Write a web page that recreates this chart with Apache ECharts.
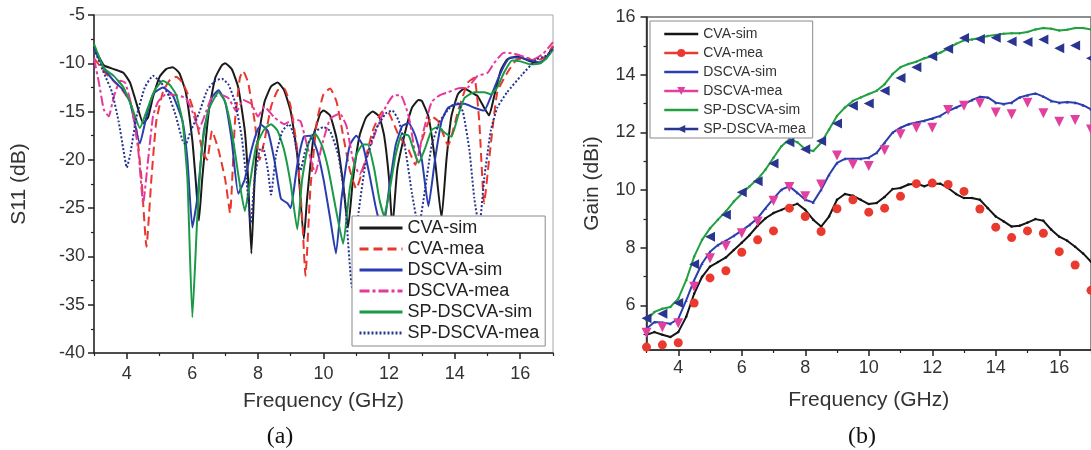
<!DOCTYPE html>
<html>
<head>
<meta charset="utf-8">
<title>S11 and gain of CVA / DSCVA / SP-DSCVA</title>
<script src="https://cdn.jsdelivr.net/npm/echarts@6/dist/echarts.min.js"></script>
<style>
  html, body { margin: 0; padding: 0; background: #fff; }
  #wrap { position: relative; width: 1091px; height: 450px; }
  #chartA { position: absolute; left: 0; top: 0; width: 560px; height: 450px; }
  #chartB { position: absolute; left: 560px; top: 0; width: 531px; height: 450px; }
</style>
</head>
<body>
<div id="wrap">
  <div id="chartA"></div>
  <div id="chartB"></div>
</div>
<script>
// ---------- panel (a): S11, [GHz, dB] ----------
const cvaSimA = [[3,-8.3],[3.3,-10.2],[3.6,-10.6],[3.9,-11],[4.1,-12],[4.3,-14.2],[4.5,-16.2],[4.65,-15.6],[4.8,-13.5],[5.0,-11.4],[5.2,-10.6],[5.4,-10.4],[5.6,-11],[5.8,-13],[6.0,-18],[6.1,-22],[6.2,-26.3],[6.3,-22],[6.5,-15],[6.7,-11.5],[6.9,-10.2],[7.0,-10],[7.2,-10.6],[7.4,-12.5],[7.6,-17],[7.7,-22],[7.8,-29.7],[7.9,-22],[8.0,-18],[8.2,-14],[8.4,-12.4],[8.6,-12],[8.8,-12.8],[9.0,-15],[9.2,-19.5],[9.4,-28.2],[9.5,-24],[9.7,-17.5],[9.9,-15.2],[10.0,-14.9],[10.2,-15.4],[10.4,-17.8],[10.6,-22.5],[10.75,-27],[10.9,-22],[11.1,-17.5],[11.3,-15.6],[11.5,-15],[11.7,-15.5],[11.85,-17.5],[12.0,-22],[12.1,-27],[12.25,-21],[12.5,-17],[12.7,-14.6],[12.9,-13.8],[13.0,-13.9],[13.2,-15.5],[13.4,-20],[13.6,-26],[13.75,-20],[13.9,-15.5],[14.1,-13.2],[14.3,-12.6],[14.5,-13],[14.7,-13.4],[14.9,-14.6],[15.05,-15.4],[15.2,-13.5],[15.4,-10.8],[15.6,-9.6],[15.9,-9.3],[16.1,-9.5],[16.3,-9.8],[16.6,-10],[16.8,-9.4],[17,-8.3]];
const cvaMeaA = [[3,-9.5],[3.4,-11.2],[3.8,-12.5],[4.1,-14],[4.3,-17],[4.45,-22],[4.6,-29],[4.75,-22],[4.9,-16],[5.1,-13],[5.3,-11.8],[5.5,-11.4],[5.7,-12],[5.9,-13.5],[6.1,-15.5],[6.3,-19],[6.45,-20],[6.6,-17],[6.8,-19],[7.0,-22],[7.15,-25.5],[7.3,-16],[7.45,-11.5],[7.55,-10.8],[7.7,-12],[7.9,-16],[8.05,-20],[8.2,-18],[8.4,-14.5],[8.6,-12.8],[8.8,-12.6],[9.0,-14.5],[9.2,-19],[9.35,-26],[9.45,-32],[9.6,-23],[9.8,-16],[10.0,-13.2],[10.2,-12.6],[10.4,-14],[10.6,-17.5],[10.8,-21],[11.0,-23],[11.2,-21],[11.5,-17],[11.8,-15],[12.0,-15.2],[12.3,-17.5],[12.6,-19],[12.8,-20.5],[13.0,-18],[13.3,-15.5],[13.5,-16],[13.8,-18.5],[14.1,-15],[14.4,-12],[14.6,-11.5],[14.75,-16],[14.9,-24.5],[15.05,-20],[15.3,-13],[15.6,-11],[15.9,-9.6],[16.2,-9.5],[16.5,-9.8],[16.8,-9.2],[17,-8.2]];
const dscvaSimA = [[3,-8.5],[3.3,-10.5],[3.6,-11.8],[3.9,-12.8],[4.1,-14],[4.4,-18.3],[4.6,-15.5],[4.8,-13.2],[5.1,-12.5],[5.4,-13.3],[5.7,-16],[5.85,-20],[6.0,-27],[6.15,-24],[6.35,-17],[6.6,-13.5],[6.8,-12.8],[7.0,-14],[7.2,-18],[7.4,-23.5],[7.6,-22],[7.8,-19],[8.0,-16.8],[8.1,-16.4],[8.3,-17],[8.5,-20],[8.7,-24],[8.9,-24.5],[9.0,-25],[9.2,-20.5],[9.4,-17.6],[9.6,-17.5],[9.8,-19],[10.0,-22],[10.2,-26],[10.38,-29.7],[10.55,-24],[10.8,-18.5],[11.0,-17.5],[11.2,-18.5],[11.4,-21.5],[11.6,-25],[11.8,-27.5],[12.0,-23],[12.2,-18.5],[12.4,-16.5],[12.6,-16.2],[12.8,-17.5],[13.0,-20],[13.2,-24.8],[13.4,-20],[13.6,-16],[13.8,-14.6],[14.0,-14.3],[14.3,-14.2],[14.6,-14.6],[14.9,-14.9],[15.1,-13.5],[15.3,-11.8],[15.5,-10.3],[15.7,-9.4],[16.0,-9.4],[16.3,-9.7],[16.6,-9.9],[16.8,-9.4],[17,-8.5]];
const dscvaMeaA = [[3,-9.5],[3.15,-12],[3.3,-14.8],[3.45,-15.5],[3.6,-13.5],[3.8,-11.8],[3.95,-12],[4.15,-14.5],[4.35,-19],[4.5,-24.5],[4.65,-20],[4.8,-15.5],[4.95,-14],[5.2,-13.2],[5.5,-13.3],[5.8,-13.6],[6.0,-15],[6.2,-16.8],[6.4,-15.2],[6.6,-13.5],[6.9,-13.3],[7.1,-13.6],[7.35,-15],[7.55,-13.8],[7.8,-14.2],[8.0,-15.5],[8.2,-14.5],[8.5,-15.6],[8.8,-16.3],[9.1,-15.8],[9.3,-16],[9.5,-18.5],[9.75,-21.4],[9.95,-18.5],[10.2,-15.8],[10.5,-15.2],[10.7,-16.5],[10.9,-20],[11.1,-21.5],[11.3,-20],[11.6,-17],[11.9,-14.5],[12.15,-13.3],[12.35,-13.3],[12.6,-15.5],[12.85,-20],[13.05,-17],[13.3,-14],[13.55,-13.3],[13.8,-13],[14.1,-12.6],[14.4,-12.5],[14.7,-11.3],[15.0,-11],[15.2,-10],[15.5,-8.9],[15.8,-9],[16.1,-9.3],[16.4,-9.6],[16.7,-9],[17,-7.8]];
const spSimA = [[3,-8],[3.3,-10.5],[3.6,-11.3],[3.9,-12.5],[4.15,-14.5],[4.4,-16.7],[4.6,-15],[4.85,-12.8],[5.1,-11.8],[5.3,-12.2],[5.5,-13.2],[5.7,-16],[5.85,-22],[6.0,-36.3],[6.15,-26],[6.3,-18.5],[6.5,-14.8],[6.8,-13],[7.0,-14],[7.2,-17],[7.4,-21.5],[7.6,-25.3],[7.75,-22.5],[7.95,-18.5],[8.2,-16.8],[8.4,-16.3],[8.6,-17],[8.8,-19],[9.0,-22.5],[9.2,-27.2],[9.35,-22],[9.55,-18.2],[9.75,-17.3],[9.95,-18.5],[10.15,-21],[10.4,-25.5],[10.6,-28.7],[10.8,-23],[11.0,-19.5],[11.2,-18.4],[11.35,-18.4],[11.55,-21],[11.7,-24],[11.85,-25.8],[12.0,-23.5],[12.2,-19.5],[12.4,-17.3],[12.6,-17.5],[12.75,-19],[12.9,-20.3],[13.1,-18.8],[13.3,-16.9],[13.5,-16.6],[13.7,-17.2],[13.9,-17.6],[14.1,-15.5],[14.3,-13.6],[14.6,-13],[14.9,-13],[15.1,-13.2],[15.3,-12.5],[15.5,-11],[15.75,-9.7],[16.0,-9.8],[16.3,-10.1],[16.6,-10],[16.8,-9.5],[17,-8.6]];
const spMeaA = [[3,-8.5],[3.3,-11],[3.55,-13],[3.75,-16],[3.9,-19],[4.0,-20.8],[4.1,-19.5],[4.3,-15.5],[4.55,-12.5],[4.8,-11.3],[5.05,-12],[5.3,-13.5],[5.5,-15.5],[5.7,-18],[5.8,-18.4],[5.95,-17],[6.2,-15.2],[6.45,-12.8],[6.7,-11.8],[6.9,-11.6],[7.1,-12.2],[7.3,-14],[7.5,-17.5],[7.65,-22],[7.78,-26.6],[7.9,-22],[8.05,-19],[8.15,-18.7],[8.3,-21],[8.4,-23.6],[8.55,-19.5],[8.75,-17],[8.95,-16.3],[9.1,-17.5],[9.3,-21.1],[9.45,-19],[9.7,-17.2],[10.0,-16.6],[10.2,-17],[10.45,-19.5],[10.65,-24],[10.87,-33.2],[11.05,-26],[11.3,-20],[11.6,-16.8],[11.9,-15.2],[12.1,-14.9],[12.3,-16],[12.5,-19],[12.7,-23.5],[12.9,-27],[13.1,-23],[13.3,-18.5],[13.55,-16],[13.8,-14.8],[14.05,-14],[14.25,-15],[14.45,-19],[14.6,-24],[14.75,-27],[14.9,-22],[15.1,-17],[15.3,-14.6],[15.6,-13],[16.05,-11.2],[16.5,-9.6],[16.8,-9.2],[17,-8.5]];

// ---------- panel (b): gain, dBi ----------
const fSim = [3,3.25,3.5,3.75,4,4.25,4.5,4.75,5,5.25,5.5,5.75,6,6.25,6.5,6.75,7,7.25,7.5,7.75,8,8.25,8.5,8.75,9,9.25,9.5,9.75,10,10.25,10.5,10.75,11,11.25,11.5,11.75,12,12.25,12.5,12.75,13,13.25,13.5,13.75,14,14.25,14.5,14.75,15,15.25,15.5,15.75,16,16.25,16.5,16.75,17];
const cvaSimB = [4.98,5.07,4.98,4.90,5.07,5.6,6.4,6.99,7.34,7.5,7.66,7.92,8.17,8.44,8.76,9.02,9.2,9.31,9.43,9.52,9.31,8.97,8.73,9.08,9.66,9.86,9.8,9.66,9.51,9.55,9.76,10.03,10.07,10.19,10.22,10.13,10.22,10.22,10.07,9.86,9.72,9.72,9.66,9.37,9.08,8.91,8.73,8.76,8.87,8.99,8.93,8.62,8.38,8.24,8.03,7.8,7.51];
const dscvaSimB = [5.19,5.42,5.4,5.36,5.53,6.17,6.87,7.45,7.86,8.09,8.24,8.41,8.59,8.79,9.02,9.37,9.7,10.01,10.13,9.9,9.66,9.57,10.01,10.53,10.94,11.08,11.08,11.08,11.12,11.29,11.64,11.99,12.16,12.28,12.34,12.4,12.48,12.57,12.74,12.86,12.98,13.12,13.23,13.21,13.03,12.98,13.03,13.21,13.29,13.35,13.24,13.09,13.03,13.05,13.03,12.94,12.8];
const spSimB = [5.48,5.77,5.88,5.94,6.23,6.87,7.69,8.27,8.67,8.97,9.26,9.6,9.87,10.13,10.38,10.71,11.12,11.52,11.76,11.66,11.41,11.35,11.64,12.1,12.57,12.86,13.09,13.21,13.33,13.44,13.67,14.02,14.26,14.37,14.45,14.57,14.64,14.76,14.9,15.07,15.19,15.22,15.27,15.34,15.38,15.42,15.44,15.44,15.48,15.57,15.62,15.59,15.53,15.56,15.62,15.62,15.57];
const fMea = [3,3.5,4,4.5,5,5.5,6,6.5,7,7.5,8,8.5,9,9.5,10,10.5,11,11.5,12,12.5,13,13.5,14,14.5,15,15.5,16,16.5,17];
const cvaMeaB = [4.55,4.63,4.70,6.08,6.95,7.20,7.84,8.27,8.58,9.37,9.08,8.56,9.35,9.66,9.23,9.37,9.78,10.22,10.24,10.19,9.95,9.34,8.71,8.35,8.58,8.50,7.86,7.40,6.52];
const dscvaMeaB = [5.05,5.24,5.38,6.64,7.63,8.06,8.5,8.91,9.63,10.1,9.78,10.19,11.2,10.88,10.83,11.38,11.93,12.16,12.16,12.77,12.92,13.01,12.69,12.63,13.03,12.66,12.37,12.43,12.1];
const spMeaB = [5.55,5.71,6.08,7.42,8.38,9.14,9.92,10.3,10.92,11.66,11.41,11.7,12.31,12.92,13.0,13.44,13.88,14.26,14.64,14.9,15.27,15.24,15.28,15.15,15.13,15.22,14.92,15.01,14.57];

// ticks
const xMajor = [4, 6, 8, 10, 12, 14, 16];
const xMinor = [3, 5, 7, 9, 11, 13, 15, 17];
const gainMajor = [6, 8, 10, 12, 14, 16];
const gainMinor = [5, 7, 9, 11, 13, 15];

const FONT = '"Liberation Sans", Arial, sans-serif';
const TXT = '#333';
const AX = '#222';

function zip(xs, ys) {
    return xs.map((x, i) => [x, ys[i]]);
}

function mainX(name, gap, labelMargin) {
    return {
        type: 'value', min: 3, max: 17, position: 'bottom',
        axisLine: { show: true, onZero: false, lineStyle: { color: AX, width: 1.5 } },
        axisTick: { show: true, length: 6, customValues: xMajor, lineStyle: { color: AX, width: 1.5 } },
        axisLabel: { customValues: xMajor, margin: labelMargin, fontSize: 18, color: TXT, fontFamily: FONT },
        splitLine: { show: false },
        name: name, nameLocation: 'middle', nameGap: gap,
        nameTextStyle: { fontSize: 21, color: TXT, fontFamily: FONT }
    };
}

function minorX() {
    return {
        type: 'value', min: 3, max: 17, position: 'bottom',
        axisLine: { show: false },
        axisTick: { show: true, length: 3, customValues: xMinor, lineStyle: { color: AX, width: 1.2 } },
        axisLabel: { show: false },
        splitLine: { show: false }
    };
}

function lineA(name, data, color, type) {
    return {
        name: name, type: 'line', data: data, symbol: 'none', smooth: 0.15,
        lineStyle: { color: color, width: 2, type: type, cap: 'butt' },
        itemStyle: { color: color }
    };
}

const chartA = echarts.init(document.getElementById('chartA'));
chartA.setOption({
    animation: false,
    grid: { left: 94, top: 15, width: 459, height: 338, show: true, borderColor: '#a8a8a8', borderWidth: 1 },
    xAxis: [mainX('Frequency (GHz)', 38, 12), minorX()],
    yAxis: [{
        type: 'value', min: -40, max: -5, interval: 5, position: 'left',
        axisLine: { show: true, onZero: false, lineStyle: { color: AX, width: 1.5 } },
        axisTick: { show: true, length: 6, lineStyle: { color: AX, width: 1.5 } },
        minorTick: { show: true, splitNumber: 2, length: 3, lineStyle: { color: AX, width: 1.2 } },
        axisLabel: { margin: 9, fontSize: 18, color: TXT, fontFamily: FONT },
        splitLine: { show: false },
        name: 'S11 (dB)', nameLocation: 'middle', nameGap: 64,
        nameTextStyle: { fontSize: 21, color: TXT, fontFamily: FONT }
    }],
    legend: {
        orient: 'vertical', left: 352, top: 216, padding: [3, 6, 4, 6],
        backgroundColor: '#fff', borderColor: '#8a8a8a', borderWidth: 1,
        itemWidth: 43, itemHeight: 12, itemGap: 3, selectedMode: false,
        itemStyle: { opacity: 0 }, lineStyle: { width: 3 },
        textStyle: { fontSize: 18, lineHeight: 18, color: '#222', fontFamily: FONT },
        data: ['CVA-sim', 'CVA-mea', 'DSCVA-sim', 'DSCVA-mea', 'SP-DSCVA-sim', 'SP-DSCVA-mea']
    },
    graphic: [{
        type: 'text', x: 280, y: 437,
        style: { text: '(a)', font: '24px "Liberation Serif", serif', fill: '#111', textAlign: 'center', textVerticalAlign: 'middle' }
    }],
    series: [
        lineA('CVA-sim', cvaSimA, '#1a1a1a', 'solid'),
        lineA('CVA-mea', cvaMeaA, '#e8372c', [9, 5]),
        lineA('DSCVA-sim', dscvaSimA, '#2a3db0', 'solid'),
        lineA('DSCVA-mea', dscvaMeaA, '#e4389c', [10, 3, 3, 3]),
        lineA('SP-DSCVA-sim', spSimA, '#1b9a46', 'solid'),
        lineA('SP-DSCVA-mea', spMeaA, '#27358f', [2, 2])
    ]
});

// panel (b)
const downTri = 'path://M0,0L10,0L5,9Z';
const leftTri = 'path://M9,0L9,10L0,5Z';

function simB(name, xs, ys, color, symbol, size) {
    return {
        name: name, type: 'line', data: zip(xs, ys), symbol: symbol, symbolSize: size,
        lineStyle: { color: color, width: 2 }, itemStyle: { color: color }, z: 2
    };
}
function meaB(name, xs, ys, color, symbol, size) {
    return {
        name: name, type: 'line', data: zip(xs, ys), symbol: symbol, symbolSize: size,
        lineStyle: { color: color, width: 0, opacity: 0 }, itemStyle: { color: color }, z: 3
    };
}

const chartB = echarts.init(document.getElementById('chartB'));
chartB.setOption({
    animation: false,
    grid: { left: 86.5, top: 17, width: 450, height: 333, show: true, borderColor: '#6a6a6a', borderWidth: 1.5 },
    xAxis: [mainX('Frequency (GHz)', 40, 9), minorX()],
    yAxis: [{
        type: 'value', min: 4.45, max: 16, position: 'left',
        axisLine: { show: true, onZero: false, lineStyle: { color: AX, width: 1.5 } },
        axisTick: { show: true, length: 6, customValues: gainMajor, lineStyle: { color: AX, width: 1.5 } },
        axisLabel: { customValues: gainMajor, margin: 11, fontSize: 18, color: TXT, fontFamily: FONT },
        splitLine: { show: false },
        name: 'Gain (dBi)', nameLocation: 'middle', nameGap: 44,
        nameTextStyle: { fontSize: 21, color: TXT, fontFamily: FONT }
    }, {
        type: 'value', min: 4.45, max: 16, position: 'left',
        axisLine: { show: false },
        axisTick: { show: true, length: 3, customValues: gainMinor, lineStyle: { color: AX, width: 1.2 } },
        axisLabel: { show: false },
        splitLine: { show: false }
    }],
    legend: {
        orient: 'vertical', left: 90, top: 21, padding: [6, 7, 2, 13],
        backgroundColor: '#fff', borderColor: '#8a8a8a', borderWidth: 1,
        itemWidth: 34, itemHeight: 10, itemGap: 5, selectedMode: false,
        lineStyle: { width: 2.5, opacity: 1 },
        textStyle: { fontSize: 14, lineHeight: 14, color: '#333', fontFamily: FONT },
        data: [
            { name: 'CVA-sim', itemStyle: { opacity: 0 } },
            'CVA-mea',
            { name: 'DSCVA-sim', itemStyle: { opacity: 0 } },
            'DSCVA-mea',
            { name: 'SP-DSCVA-sim', itemStyle: { opacity: 0 } },
            'SP-DSCVA-mea'
        ]
    },
    graphic: [{
        type: 'text', x: 302, y: 437,
        style: { text: '(b)', font: '24px "Liberation Serif", serif', fill: '#111', textAlign: 'center', textVerticalAlign: 'middle' }
    }],
    series: [
        simB('CVA-sim', fSim, cvaSimB, '#151515', 'circle', 2.5),
        meaB('CVA-mea', fMea, cvaMeaB, '#ea3a2f', 'circle', 9),
        simB('DSCVA-sim', fSim, dscvaSimB, '#2b3eae', 'triangle', 3),
        meaB('DSCVA-mea', fMea, dscvaMeaB, '#e2409f', downTri, 10),
        simB('SP-DSCVA-sim', fSim, spSimB, '#22a040', 'circle', 2.5),
        meaB('SP-DSCVA-mea', fMea, spMeaB, '#2a3590', leftTri, 10)
    ]
});
</script>
</body>
</html>
